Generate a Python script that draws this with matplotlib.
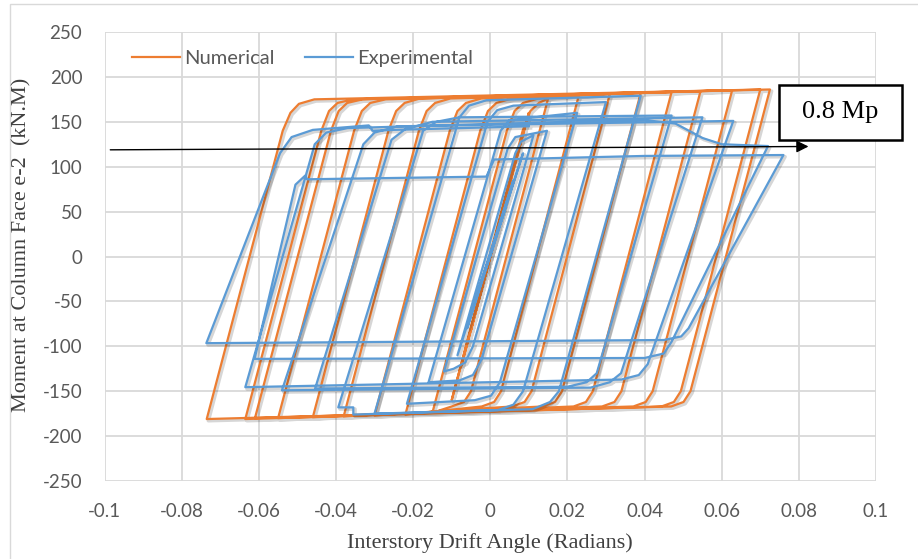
import matplotlib
matplotlib.use("Agg")
import matplotlib.pyplot as plt
import matplotlib.patheffects as pe
from matplotlib.patches import Rectangle

plt.rcParams["axes.unicode_minus"] = False

# ---------------- data ----------------
numerical_drift = [0, 0.005, -0.005, 0.0075, -0.0075, 0.010, -0.010,
                   0.0084, 0.0104, 0.0126, 0.015, -0.005, -0.0068, -0.010, -0.015,
                   0.0043, 0.0063, 0.0085, 0.0125, 0.023, 0.0028, 0.0010, -0.0022, -0.022,
                   -0.0026, -0.0006, 0.0016, 0.0056, 0.031, 0.0107, 0.0089, 0.0057, -0.030,
                   -0.0105, -0.0085, -0.0063, -0.0023, 0.039, 0.0186, 0.0168, 0.0136, -0.038,
                   -0.0185, -0.0165, -0.0143, -0.0103, 0.047, 0.0266, 0.0248, 0.0216, -0.046,
                   -0.0264, -0.0244, -0.0222, -0.0182, 0.0545, 0.0340, 0.0322, 0.0290, -0.055,
                   -0.0353, -0.0333, -0.0311, -0.0271, 0.0627, 0.0421, 0.0403, 0.0371, -0.061,
                   -0.0413, -0.0393, -0.0371, -0.0331, 0.0700, 0.0494, 0.0476, 0.0444, -0.0635,
                   -0.0438, -0.0418, -0.0396, -0.0356, 0.0725, 0.0519, 0.0501, 0.0469, -0.0735,
                   -0.0538, -0.0518, -0.0496, -0.0456, 0.0600]
numerical_moment = [0, 82, -82, 122, -122, 160, -160,
                    140, 162, 171, 176, -150, -162, -167, -174,
                    140, 162, 171, 176, 180, -150, -162, -167, -176,
                    140, 162, 171, 176, 181, -150, -162, -167, -177,
                    140, 162, 171, 176, 182, -150, -162, -167, -178,
                    140, 162, 171, 176, 183, -150, -162, -167, -179,
                    140, 162, 171, 176, 184, -150, -162, -167, -180,
                    140, 162, 171, 175, 185, -150, -162, -167, -180,
                    140, 162, 171, 175, 186, -150, -162, -167, -181,
                    140, 162, 171, 175, 186, -150, -162, -167, -181,
                    140, 160, 170, 175, 185]

experimental_drift = [0, 0.004, -0.004, 0.006, -0.006, 0.0085, -0.0085,
                      0.0065, 0.008, 0.0112, -0.0045, -0.0065, -0.0095, -0.012,
                      0.0045, 0.0065, 0.0147, -0.0023, -0.0045, -0.008, -0.016,
                      0.0027, 0.005, 0.0225, 0.0025, 0.0002, -0.004, -0.0216,
                      -0.0007, 0.0018, 0.006, 0.030, 0.0085, 0.006, 0.002, -0.030,
                      -0.008, -0.0055, -0.001, 0.039, 0.0178, 0.0155, 0.011, -0.0355, -0.0355, -0.0394,
                      -0.0174, -0.014, -0.008, 0.047, 0.0276, 0.025, 0.020, -0.0454,
                      -0.0256, -0.022, -0.015, 0.055, 0.0339, 0.031, 0.026, -0.054,
                      -0.0329, -0.030, -0.024, 0.063, 0.0408, 0.0385, 0.034, -0.0635,
                      -0.0455, -0.0425, -0.037, 0.020, 0.040, 0.048, 0.055, 0.060, 0.072,
                      0.047, 0.045, 0.040, -0.0611,
                      -0.0505, -0.048, -0.0475, -0.001, 0.001, 0.040, 0.076,
                      0.0514, 0.0495, 0.045, -0.0736,
                      -0.0545, -0.0515, -0.046, -0.0315, -0.0305, -0.025, 0.010]
experimental_moment = [0, 55, -50, 85, -80, 115, -110,
                       115, 128, 135, -100, -118, -125, -128,
                       120, 133, 140, -115, -132, -138, -140,
                       140, 152, 160, -140, -155, -160, -164,
                       150, 163, 168, 172, -150, -165, -171, -175,
                       155, 168, 174, 179, -150, -162, -170, -176, -168, -168,
                       140, 150, 155, 157, -130, -140, -145, -147,
                       130, 142, 150, 155, -130, -140, -146, -149,
                       125, 138, 145, 151, -120, -132, -137, -145.5,
                       125, 138, 143, 150, 152, 148, 132, 125, 123,
                       -95, -108, -113, -114,
                       80, 90, 86, 89, 108, 112, 113,
                       -80, -89, -93, -96.5,
                       115, 133, 141, 146, 140, 141, 145]

x_ticks = [-0.1, -0.08, -0.06, -0.04, -0.02, 0, 0.02, 0.04, 0.06, 0.08, 0.1]
x_tick_labels = ["-0.1", "-0.08", "-0.06", "-0.04", "-0.02", "0", "0.02", "0.04", "0.06", "0.08", "0.1"]
y_ticks = [-250, -200, -150, -100, -50, 0, 50, 100, 150, 200, 250]

mp_line_x = [-0.0985, 0.0825]
mp_line_y = [118.8, 122.5]
mp_label = "0.8 Mp"

# ---------------- drawing ----------------
W, H = 918, 559
fig = plt.figure(figsize=(W / 100, H / 100), dpi=100)
ax = fig.add_axes([104.5 / W, 1 - 481 / H, 771.5 / W, 449 / H])

# outer chart border
fig.add_artist(Rectangle((10 / W, -0.02), 1.0, 1 - 4.3 / H + 0.02,
                         transform=fig.transFigure, fill=False,
                         edgecolor="#D9D9D9", lw=1.0))

ax.set_xlim(-0.1, 0.1)
ax.set_ylim(-250, 250)
ax.set_xticks(x_ticks)
ax.set_xticklabels(x_tick_labels)
ax.set_yticks(y_ticks)
for s in ax.spines.values():
    s.set_visible(False)
ax.grid(True, color="#D9D9D9", lw=1.3)
ax.set_axisbelow(True)
ax.tick_params(length=0, labelsize=13.5, labelcolor="#595959", pad=16)
for lab in ax.get_xticklabels() + ax.get_yticklabels():
    lab.set_family("Lato")

shadow = [pe.SimpleLineShadow(offset=(1.2, -1.2), shadow_color="black", alpha=0.16, linewidth=2.6),
          pe.Normal()]
ax.plot(numerical_drift, numerical_moment, color="#ED7D31", lw=1.6,
        label="Numerical", path_effects=shadow, solid_joinstyle="round")
ax.plot(experimental_drift, experimental_moment, color="#5B9BD5", lw=1.6,
        label="Experimental", path_effects=shadow, solid_joinstyle="round")

leg = ax.legend(loc="center left", bbox_to_anchor=(0.012, 0.942), ncol=2, frameon=False,
                handlelength=2.4, handletextpad=0.2, columnspacing=1.5,
                prop={"family": "Lato", "size": 14.5})
for t in leg.get_texts():
    t.set_color("#595959")
for h in leg.get_lines():
    h.set_path_effects([])
    h.set_linewidth(1.6)

# 0.8 Mp arrow
ax.annotate("", xy=(mp_line_x[1], mp_line_y[1]), xytext=(mp_line_x[0], mp_line_y[0]),
            arrowprops=dict(arrowstyle="-|>", color="black", lw=1.0, mutation_scale=18,
                            shrinkA=0, shrinkB=0),
            annotation_clip=False)
ax.add_patch(Rectangle((0.0748, 130), 0.032, 61.5, facecolor="white", edgecolor="black",
                       lw=1.8, clip_on=False, zorder=5))
ax.text(0.0908, 160.8, mp_label, ha="center", va="center", fontsize=19,
        family="Liberation Serif", color="black", zorder=6, clip_on=False)

fig.text(22 / W, 1 - 245 / H, "Moment at Column Face e-2  (kN.M)", rotation=90,
         ha="center", va="center", fontsize=16, family="Liberation Serif", color="#404040")
fig.text(490 / W, 1 - 543 / H, "Interstory Drift Angle (Radians)",
         ha="center", va="center", fontsize=16, family="Liberation Serif", color="#404040")

fig.savefig("out.png", dpi=100)
